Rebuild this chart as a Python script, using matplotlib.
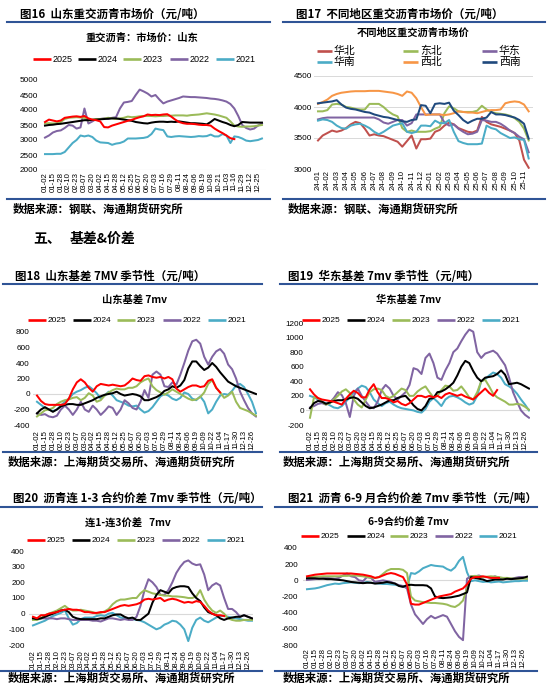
import numpy as np
import matplotlib
matplotlib.use("Agg")
import matplotlib.pyplot as plt
from matplotlib.lines import Line2D

plt.rcParams['font.family'] = ['Liberation Sans', 'DejaVu Sans']
CJK = ['Noto Sans CJK SC', 'DejaVu Sans']

# ---------------- 数据 ----------------
years = ['2025', '2024', '2023', '2022', '2021']
year_colors = ['#FF0000', '#000000', '#9BBB59', '#8064A2', '#4BACC6']

ticks_16 = ['01-02', '01-15', '01-28', '02-10', '02-23', '03-07', '03-20', '04-02', '04-15', '04-28',
            '05-12', '05-25', '06-07', '06-20', '07-03', '07-16', '07-29', '08-11', '08-24', '09-06',
            '09-19', '10-08', '10-21', '11-03', '11-16', '11-29', '12-12', '12-25']
ticks_season = ['01-02', '01-15', '01-28', '02-10', '02-23', '03-07', '03-20', '04-02', '04-15', '04-28',
                '05-12', '05-25', '06-07', '06-20', '07-03', '07-16', '07-29', '08-11', '08-24', '09-06',
                '09-19', '10-09', '10-22', '11-04', '11-17', '11-30', '12-13', '12-26']
months_17 = ['24-01', '24-02', '24-03', '24-04', '24-05', '24-06', '24-07', '24-08', '24-09', '24-10',
             '24-11', '24-12', '25-01', '25-02', '25-03', '25-04', '25-05', '25-06', '25-07', '25-08',
             '25-09', '25-10', '25-11']

# 图16 山东重交沥青市场价 (每半个刻度一个点)
c16_2025 = [3600, 3680, 3650, 3620, 3650, 3740, 3760, 3780, 3790, 3770,
            3800, 3720, 3680, 3660, 3620, 3430, 3420, 3480, 3520, 3560,
            3600, 3640, 3670, 3720, 3760, 3790, 3850, 3830, 3840, 3830,
            3850, 3860, 3780, 3680, 3600, 3560, 3540, 3540, 3530, 3510,
            3500, 3500, 3480, 3380, 3300, 3230, 3150, 3060, 3030]
c16_2024 = [3480, 3500, 3510, 3530, 3540, 3560, 3580, 3600, 3620, 3640,
            3660, 3660, 3670, 3680, 3690, 3700, 3710, 3720, 3720, 3700,
            3680, 3660, 3640, 3600, 3580, 3560, 3550, 3580, 3600, 3610,
            3610, 3600, 3610, 3600, 3620, 3600, 3580, 3560, 3560, 3550,
            3540, 3520, 3600, 3700, 3650, 3600, 3560, 3500, 3460, 3500,
            3600, 3590, 3580, 3580, 3580, 3580]
c16_2023 = [3550, 3560, 3550, 3560, 3600, 3700, 3740, 3750, 3760, 3750,
            3740, 3650, 3680, 3700, 3700, 3710, 3740, 3720, 3700, 3720,
            3740, 3780, 3760, 3770, 3790, 3800, 3800, 3800, 3790, 3800,
            3800, 3810, 3810, 3820, 3820, 3820, 3810, 3830, 3840, 3850,
            3870, 3890, 3870, 3850, 3820, 3780, 3740, 3620, 3480, 3450,
            3440, 3450, 3450, 3460, 3480, 3500]
c16_2022 = [3080, 3150, 3250, 3300, 3320, 3400, 3500, 3480, 3380, 3420,
            4050, 3550, 3620, 3700, 3700, 3720, 3700, 3740, 3760, 4050,
            4250, 4270, 4300, 4500, 4680, 4620, 4550, 4450, 4500, 4350,
            4220, 4280, 4320, 4360, 4400, 4450, 4440, 4430, 4430, 4420,
            4410, 4400, 4380, 4370, 4350, 4320, 4280, 4200, 4050, 3800,
            3500, 3400, 3350, 3380, 3480, 3550]
c16_2021 = [2530, 2530, 2530, 2540, 2540, 2600, 2750, 2900, 3000, 3150,
            3120, 3150, 3100, 2980, 2920, 2910, 2900, 2840, 2880, 2900,
            2950, 3050, 3050, 3050, 3060, 3070, 3100, 3200, 3380, 3350,
            3330, 3120, 3100, 3120, 3130, 3120, 3110, 3100, 3110, 3130,
            3120, 3130, 3180, 3120, 3120, 3200, 3150, 2900, 3120, 3100,
            3050, 2980, 2960, 2980, 3000, 3050]

# 图17 不同地区重交沥青市场价 (每半个月一个点)
regions = ['华北', '东北', '华东', '华南', '西北', '西南']
region_colors = ['#C0504D', '#9BBB59', '#8064A2', '#4BACC6', '#F79646', '#1F497D']
c17_huabei = [3460, 3540, 3580, 3620, 3600, 3620, 3660, 3720, 3760, 3740,
              3650, 3540, 3560, 3540, 3530, 3500, 3470, 3440, 3360, 3450,
              3540, 3330, 3480, 3480, 3490, 3600, 3630, 3700, 3750, 3720,
              3660, 3630, 3600, 3590, 3620, 3840, 3760, 3720, 3700, 3680,
              3650, 3620, 3580, 3460, 3150, 3020]
c17_dongbei = [3930, 3930, 3950, 4040, 4050, 4040, 4000, 3990, 3970, 3960,
               3960, 4050, 4050, 4050, 4000, 3930, 3880, 3850, 3660, 3600,
               3620, 3600, 3600, 3600, 3610, 3650, 3680, 3900, 4010, 3980,
               3930, 3920, 3920, 3920, 3940, 4020, 3960, 3920, 3900, 3890,
               3880, 3860, 3820, 3760, 3650, 3460]
c17_huadong = [3800, 3820, 3830, 3830, 3830, 3830, 3830, 3830, 3830, 3830,
               3830, 3830, 3830, 3800, 3750, 3730, 3760, 3790, 3790, 3700,
               3740, 3880, 3880, 3880, 3880, 3880, 3880, 3750, 3700, 3720,
               3650, 3600, 3560, 3570, 3600, 3790, 3780, 3760, 3760, 3730,
               3680, 3620, 3580, 3520, 3480, 3270]
c17_huanan = [3780, 3800, 3790, 3760, 3700, 3660, 3650, 3700, 3720, 3730,
              3700, 3660, 3600, 3560, 3600, 3650, 3700, 3720, 3740, 3600,
              3580, 3600, 3700, 3700, 3690, 3780, 3740, 3740, 3790, 3600,
              3450, 3420, 3400, 3400, 3400, 3410, 3700, 3660, 3640, 3580,
              3540, 3500, 3510, 3480, 3470, 3170]
c17_xibei = [4050, 4080, 4120, 4180, 4210, 4230, 4240, 4250, 4255, 4255,
             4255, 4260, 4260, 4260, 4250, 4240, 4230, 4210, 4180, 4250,
             4230, 4140, 4000, 3870, 3880, 3880, 3880, 3870, 3880, 3900,
             3930, 3920, 3910, 3910, 3900, 3920, 3940, 3950, 3950, 3960,
             4060, 4080, 4090, 4080, 4040, 3930]
c17_xinan = [4060, 4070, 4080, 4090, 4110, 4040, 3990, 3970, 3960, 3940,
             3920, 3910, 3880, 3860, 3840, 3830, 3810, 3790, 3770, 3760,
             3790, 3800, 4030, 4020, 3900, 4050, 4060, 4050, 4070, 3940,
             3870, 3790, 3740, 3780, 3810, 3810, 3830, 3920, 3880, 3880,
             3870, 3850, 3830, 3790, 3730, 3490]

# 图18 山东基差 7mv
c18_2025 = [-20, -90, -130, -140, -140, -140, -140, -130, -60, 60,
            150, 190, 150, 80, 30, 100, 130, 120, 110, 120,
            110, 100, 110, 150, 200, 180, 170, 230, 240, 220,
            210, 220, 200, 220, 190, 70, 30, 60, 90, 110,
            110, 90, 100, 170, 190, 80, 20]
c18_2024 = [-250, -200, -170, -200, -230, -200, -160, -140, -130, -130,
            -140, -140, -120, -100, -80, -50, -30, -10, 0, 10,
            30, 0, -20, -10, 0, -10, -30, -80, -80, -60,
            -40, -10, 40, 60, 100, 80, 110, 180, 330, 420,
            420, 360, 310, 340, 400, 350, 280, 220, 160, 130,
            100, 80, 60, 40, 20, 0]
c18_2023 = [-290, -250, -210, -200, -180, -130, -100, -80, -70, -50,
            -40, -80, -50, 10, -20, -100, -80, -20, 20, 50,
            70, 60, 60, 80, 80, 100, 150, 180, 200, 100,
            50, 20, -10, 20, 60, 30, 0, -30, -60, -80,
            -70, -40, 20, 130, 180, 80, 20, -50, -20, 30,
            -100, -180, -200, -220, -250, -280]
c18_2022 = [-250, -270, -260, -290, -300, -280, -200, -150, -200, -270,
            -200, -100, -200, -230, -150, -200, -270, -220, -160, -180,
            -270, -200, -80, -120, -180, -200, -100, 50, -50, 250,
            290, 250, 100, 90, 150, 120, 250, 400, 560, 680,
            700, 650, 480, 380, 480, 550, 580, 520, 380, 320,
            200, 30, -80, -180, -250, -290]
c18_2021 = [-100, -140, -180, -200, -220, -200, -150, -100, -60, 0,
            30, 50, 80, 100, 60, 10, -60, -20, 30, -20,
            -80, -100, -120, -150, -160, -150, -200, -240, -220, -170,
            -100, -30, 0, -20, -60, -80, -50, 20, 0, -60,
            -80, -30, -100, -250, -200, -100, -20, 0, -10, 40,
            110, 130, 90, 0, -100, -250]

# 图19 华东基差 7mv
c19_2025 = [290, 220, 170, 150, 140, 130, 120, 100, 80, 160,
            220, 270, 240, 180, 180, 290, 360, 250, 170, 170,
            150, 110, 130, 90, 70, 100, 150, 200, 200, 180,
            200, 180, 200, 170, 220, 240, 220, 200, 220, 190,
            170, 150, 200, 250, 300, 240, 200, 280]
c19_2024 = [30, 100, 130, 120, 90, 110, 130, 140, 140, 150,
            170, 180, 160, 110, 60, 30, 40, 60, 80, 110,
            140, 140, 170, 190, 200, 140, 70, 20, 0, 60,
            160, 170, 250, 260, 290, 330, 380, 480, 600, 680,
            650, 540, 450, 400, 450, 460, 470, 500, 550, 490,
            360, 370, 380, 360, 330, 300]
c19_2023 = [-100, 180, 170, 120, 80, 100, 150, 200, 260, 290,
            240, 150, 80, 40, 150, 250, 290, 300, 280, 200,
            170, 200, 250, 300, 280, 200, 200, 260, 300, 330,
            250, 180, 200, 280, 340, 330, 270, 280, 330, 260,
            180, 150, 250, 400, 420, 330, 230, 180, 150, 120,
            80, 80, 90, 80, 50, 10]
c19_2022 = [40, 60, 90, 100, 80, 110, 170, 250, 210, 100,
            -90, 200, 300, 200, 120, 50, 30, 120, 280, 350,
            300, 200, 150, 200, 250, 350, 580, 560, 500, 720,
            780, 650, 450, 420, 550, 650, 800, 850, 950, 1040,
            1110, 1080, 800, 720, 780, 800, 820, 780, 700, 620,
            450, 250, 120, 0, -60, -100]
c19_2021 = [200, 180, 150, 120, 100, 70, 40, 30, 60, 120,
            180, 250, 300, 340, 320, 250, 150, 100, 60, 100,
            120, 80, 50, 30, 20, 10, 0, -20, -30, 20,
            120, 170, 120, 60, 150, 190, 200, 180, 150, 110,
            80, 100, 200, 400, 430, 480, 520, 500, 450, 360,
            330, 290, 230, 150, 80, 0]

# 图20 沥青连1-连3价差 7mv
c20_2025 = [-20, -30, -10, -10, 0, 5, 10, 20, 25, 30,
            25, 25, 20, 10, 10, 5, 5, 10, 10, 20,
            30, 40, 50, 55, 50, 55, 60, 70, 90, 95,
            90, 95, 100, 80, 90, 95, 90, 80, 70, 75,
            70, 80, 75, 50, 20, 0, -10, -10, -15]
c20_2024 = [-30, -35, -30, -20, -10, 0, 10, 20, 25, 10,
            -20, -30, -35, -35, -35, -35, -35, -30, -30, -20,
            -10, -5, -5, -20, -30, -25, -40, -40, -20, 0,
            70, 120, 150, 140, 130, 160, 170, 175, 175, 170,
            130, 100, 80, 40, 10, 0, -10, -30, -40, -30,
            -25, -20, -20, -10, -20, -30]
c20_2023 = [-40, -40, -30, -10, 0, 10, 20, 35, 50, 30,
            20, 20, 25, 20, 15, 10, 0, 5, 15, 30,
            60, 80, 90, 90, 95, 100, 100, 130, 150, 140,
            130, 125, 120, 115, 115, 110, 110, 108, 105, 100,
            100, 110, 150, 90, 50, 20, 5, 20, 0, -30,
            -40, -45, -45, -40, -40, -40]
c20_2022 = [-30, -30, -30, -30, -30, -30, -35, -30, -30, -35,
            -40, -40, -40, -40, -40, -45, -45, -50, -40, -30,
            -30, -35, -40, -35, -40, -40, -20, 50, 150, 220,
            200, 170, 120, 120, 150, 200, 260, 300, 330, 340,
            320, 310, 315, 250, 150, 180, 195, 180, 100, 30,
            30, 10, -20, -10, -20, -30]
c20_2021 = [-75, -65, -55, -45, -30, -15, -5, 5, 20, -30,
            -70, -60, -35, -25, -25, -25, -15, -10, -15, 0,
            5, -10, -25, -30, -30, -35, -40, -45, -55, -70,
            -85, -100, -90, -70, -60, -45, -50, -70, -100, -175,
            -90, -40, -25, -45, -55, -40, -25, -15, -15, -20,
            -25, -30, -35, -40, -45, -45]

# 图21 沥青6-9月合约价差 7mv
c21_2025 = [50, 60, 70, 75, 80, 85, 85, 85, 85, 85,
            85, 85, 80, 75, 70, 60, 50, 30, 40, 60,
            80, 90, 80, 60, 40, -50, -290, -300, -300, -280,
            -260, -240, -220, -200, -190, -180, -170, -140, -120, -100,
            -50, 20, 40, 40, 50, 40, 30, 30, 30]
c21_2024 = [25, 25, 25, 20, 20, 15, 15, 10, 5, 0,
            -10, -20, -25, -30, -35, -30, -30, -40, -35, -30,
            -20, -30, -40, -70, -80, -60, -55, -60, -60, -60,
            -65, -100, -200, -215, -220, -215, -210, -200, -190, -170,
            -150, 40, 30, 20, 10, -10, 0, 10, 10, 10,
            20, 15, 20, 25, 30, 45]
c21_2023 = [40, 40, 45, 45, 50, 50, 50, 50, 50, 55,
            55, 60, 60, 55, 50, 40, 35, 30, 40, 80,
            120, 140, 140, 140, 130, 90, -200, -250, -260, -270,
            -275, -280, -280, -285, -290, -300, -320, -330, -300, -250,
            -100, 50, 55, 50, 40, 45, 50, 45, 40, 30,
            30, 25, 20, 20, 20, 20]
c21_2022 = [5, 10, 15, 20, 25, 30, 25, 20, 30, 60,
            85, 50, 40, 0, -10, 40, 30, -20, -10, 0,
            -10, -20, -40, -60, -70, -100, -300, -420, -480, -540,
            -480, -440, -470, -450, -430, -450, -540, -630, -700, -740,
            20, 50, 50, 60, 40, 40, 30, 50, 30, 20,
            20, 20, 30, 40, 40, 20]
c21_2021 = [-110, -105, -100, -90, -75, -60, -50, -40, -45, -35,
            -30, -25, -30, -35, -30, -20, -30, -35, -40, -45,
            -45, -50, -55, -65, -80, -85, 90, 80, 110, 150,
            170, 190, 180, 175, 170, 140, 120, 160, 240, 290,
            100, -10, 0, -10, -20, -15, -25, -20, -15, -25,
            -20, -15, -10, -10, -5, -5]

# ---------------- 画布 ----------------
W, H = 550, 686
fig = plt.figure(figsize=(W / 100, H / 100), dpi=100)
fig.patch.set_facecolor('white')
RULE = '#2F5496'
TITLE_FS = 8.3
SRC_FS = 8.2
SUB_FS = 7.4
LW = 1.45


def fx(x):
    return x / W


def fy(y):
    return 1 - y / H


def rule(x0, x1, y):
    fig.add_artist(Line2D([fx(x0), fx(x1)], [fy(y), fy(y)], color=RULE, lw=1.5))


def ftext(x, y, s, size, ha='left', weight='bold', family=CJK):
    fig.text(fx(x), fy(y), s, fontsize=size, ha=ha, va='center',
             fontweight=weight, family=family, color='black')


def legend(y, xs, labels, colors, size, seg=18, family=None):
    for x0, lab, c in zip(xs, labels, colors):
        fig.add_artist(Line2D([fx(x0), fx(x0 + seg)], [fy(y), fy(y)], color=c,
                              lw=1.9, solid_capstyle='butt'))
        fig.text(fx(x0 + seg + 2), fy(y), lab, fontsize=size, va='center', ha='left',
                 family=family or ['Liberation Sans'])


def make_ax(xa, ya, xlim, ylim, ylab_right, xlab_top, yticks, xlabels):
    # xa/ya: 两个刻度锚点 (数据值, 像素)
    i0, p0, i1, p1 = xa
    sx = (p1 - p0) / (i1 - i0)
    left = p0 + (xlim[0] - i0) * sx
    right = p0 + (xlim[1] - i0) * sx
    v0, q0, v1, q1 = ya
    sy = (q1 - q0) / (v1 - v0)
    top = q0 + (ylim[1] - v0) * sy
    bottom = q0 + (ylim[0] - v0) * sy
    ax = fig.add_axes([fx(left), fy(bottom), (right - left) / W, (bottom - top) / H])
    ax.set_xlim(*xlim)
    ax.set_ylim(*ylim)
    for s in ax.spines.values():
        s.set_visible(False)
    ax.set_yticks(yticks)
    ax.set_yticklabels([str(v) for v in yticks], fontsize=5.9)
    ax.set_xticks(range(len(xlabels)))
    ax.set_xticklabels(xlabels, rotation=90, fontsize=5.6)
    ax.tick_params(axis='y', length=0, pad=(left - ylab_right) * 0.72)
    ax.tick_params(axis='x', length=0, pad=(xlab_top - bottom) * 0.72)
    ax.patch.set_alpha(0)
    return ax


def draw_season(ax, series):
    # 2021 先画, 2025 在最上层
    for vals, c in reversed(list(zip(series, year_colors))):
        x = np.arange(len(vals)) * 0.5
        ax.plot(x, vals, color=c, lw=LW, solid_joinstyle='round')


# ---- 图16 ----
ftext(20, 14, '图16  山东重交沥青市场价（元/吨）', TITLE_FS)
rule(7, 270, 22)
ftext(142, 38, '重交沥青：市场价：山东', SUB_FS, ha='center')
legend(59, [33, 78, 123, 170, 216], years, year_colors, 6.5)
ax16 = make_ax((0, 45, 27, 258), (5000, 80, 2000, 170), (-0.6, 28.0), (2000, 5000),
               38, 172, list(range(2000, 5001, 500)), ticks_16)
ax16.axhline(2000, color='#D9D9D9', lw=0.8, zorder=0)
draw_season(ax16, [c16_2025, c16_2024, c16_2023, c16_2022, c16_2021])
rule(7, 270, 199)
ftext(13, 209, '数据来源：钢联、海通期货研究所', SRC_FS)

# ---- 图17 ----
ftext(296, 14, '图17  不同地区重交沥青市场价（元/吨）', TITLE_FS)
rule(283, 545, 22)
ftext(413, 33, '不同地区重交沥青市场价', SUB_FS, ha='center')
leg_x = [317, 403, 482]
legend(51, leg_x, regions[:3], region_colors[:3], 7.8, seg=15, family=CJK)
legend(62, leg_x, regions[3:], region_colors[3:], 7.8, seg=15, family=CJK)
ax17 = make_ax((0, 318, 22, 524), (4500, 76, 3000, 169), (-0.4, 23.0), (3000, 4500),
               312, 170, [3000, 3500, 4000, 4500], months_17)
for v in [3000, 3500, 4000, 4500]:
    ax17.axhline(v, color='#D9D9D9', lw=0.7, zorder=0)
for vals, c in zip([c17_huabei, c17_dongbei, c17_huadong, c17_huanan, c17_xibei, c17_xinan],
                   region_colors):
    ax17.plot(np.arange(len(vals)) * 0.5, vals, color=c, lw=LW)
rule(283, 545, 199)
ftext(288, 209, '数据来源：钢联、海通期货研究所', SRC_FS)

# ---- 五、基差&价差 ----
ftext(33, 239, '五、', 10)
ftext(70, 239, '基差&价差', 10)

# ---- 图18 ----
ftext(15, 277, '图18  山东基差 7MV 季节性（元/吨）', TITLE_FS)
rule(3, 262, 284)
ftext(135, 300, '山东基差 7mv', SUB_FS, ha='center')
legend(320, [28, 73, 117, 163, 208], years, year_colors, 6.0)
ax18 = make_ax((0, 37, 27, 252), (800, 332, -400, 425), (-0.5, 27.6), (-400, 800),
               30, 430, list(range(-400, 801, 200)), ticks_season)
ax18.axhline(0, color='#D9D9D9', lw=0.8, zorder=0)
draw_season(ax18, [c18_2025, c18_2024, c18_2023, c18_2022, c18_2021])
rule(3, 262, 452)
ftext(8, 462, '数据来源：上海期货交易所、海通期货研究所', SRC_FS)

# ---- 图19 ----
ftext(288, 277, '图19  华东基差 7mv 季节性（元/吨）', TITLE_FS)
rule(280, 537, 284)
ftext(408, 300, '华东基差 7mv', SUB_FS, ha='center')
legend(320, [302, 347, 392, 437, 482], years, year_colors, 6.0)
ax19 = make_ax((0, 310, 27, 525), (1200, 323, -200, 425), (-0.5, 27.6), (-200, 1200),
               304, 430, list(range(-200, 1201, 200)), ticks_season)
ax19.axhline(0, color='#D9D9D9', lw=0.8, zorder=0)
draw_season(ax19, [c19_2025, c19_2024, c19_2023, c19_2022, c19_2021])
rule(280, 537, 452)
ftext(283, 462, '数据来源：上海期货交易所、海通期货研究所', SRC_FS)

# ---- 图20 ----
ftext(13, 499, '图20  沥青连 1-3 合约价差 7mv 季节性（元/吨）', TITLE_FS)
rule(0, 262, 507)
ftext(128, 524, '连1-连3价差   7mv', SUB_FS, ha='center')
legend(540, [27, 72, 117, 162, 207], years, year_colors, 6.0)
ax20 = make_ax((0, 33, 27, 248), (400, 551, -200, 645), (-0.5, 27.6), (-200, 400),
               25, 650, list(range(-200, 401, 100)), ticks_season)
ax20.axhline(0, color='#D9D9D9', lw=0.8, zorder=0)
draw_season(ax20, [c20_2025, c20_2024, c20_2023, c20_2022, c20_2021])
rule(0, 262, 671)
ftext(8, 678, '数据来源：上海期货交易所、海通期货研究所', SRC_FS)

# ---- 图21 ----
ftext(288, 499, '图21  沥青 6-9 月合约价差 7mv 季节性（元/吨）', TITLE_FS)
rule(275, 537, 507)
ftext(408, 523, '6-9合约价差 7mv', SUB_FS, ha='center')
legend(536, [301, 347, 390, 435, 479], years, year_colors, 6.0)
ax21 = make_ax((0, 307, 27, 523), (400, 548, -800, 645), (-0.5, 27.6), (-800, 400),
               298, 648, list(range(-800, 401, 200)), ticks_season)
ax21.axhline(0, color='#D9D9D9', lw=0.8, zorder=0)
draw_season(ax21, [c21_2025, c21_2024, c21_2023, c21_2022, c21_2021])
rule(275, 537, 671)
ftext(283, 678, '数据来源：上海期货交易所、海通期货研究所', SRC_FS)

fig.savefig('out.png', dpi=100, facecolor='white')
